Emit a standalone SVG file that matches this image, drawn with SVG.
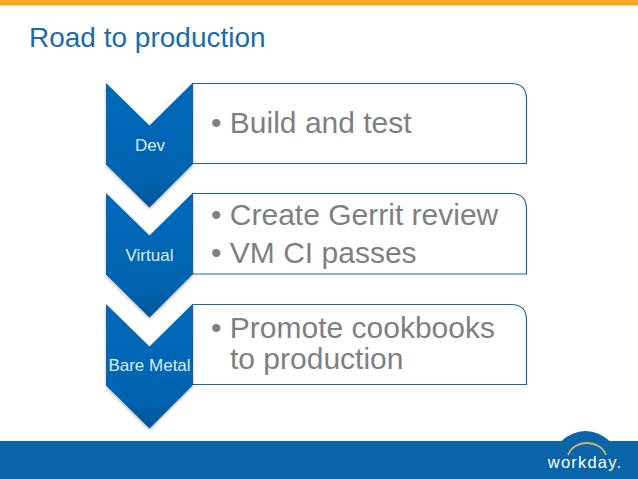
<svg xmlns="http://www.w3.org/2000/svg" width="638" height="479" viewBox="0 0 638 479">
<style>
text{font-family:"Liberation Sans",Arial,sans-serif}
.t{font-size:17px;fill:#dcecf8;text-anchor:middle}
.b{font-size:30px;fill:#7f7f7f}
.box{fill:#fff;stroke:#1a679d;stroke-width:1.2}
</style>
<defs>
<linearGradient id="g" x1="0" y1="0" x2="0" y2="1"><stop offset="0" stop-color="#0668ba"/><stop offset=".75" stop-color="#0564b0"/><stop offset="1" stop-color="#065596"/></linearGradient>
<filter id="s" x="-20%" y="-10%" width="140%" height="125%"><feDropShadow dx="0" dy="1.5" stdDeviation="1.5" flood-color="#000" flood-opacity=".3"/></filter>
<path id="c" d="M106 83L149.500 125.500L192.500 83V164.500L149.500 207.500L106 164.500Z" fill="url(#g)" filter="url(#s)"/>
</defs>
<rect width="638" height="479" fill="#fff"/>
<rect width="638" height="5.500" fill="#f6a623"/>
<text x="29" y="47" font-size="28px" fill="#1a6ca8">Road to production</text>
<g id="dev">
<path class="box" d="M192.500 83.500H511Q526.500 83.500 526.500 99V163.500H192.500Z"/>
<use href="#c"/>
<text class="t" x="150" y="151">Dev</text>
<text class="b" x="211" y="133">• Build and test</text>
</g>
<g id="virtual">
<path class="box" d="M192.500 193.500H511Q526.500 193.500 526.500 209V274H192.500Z"/>
<use href="#c" y="110"/>
<text class="t" x="149.500" y="261">Virtual</text>
<text class="b" x="211" y="225">• Create Gerrit review</text>
<text class="b" x="211" y="263">• VM CI passes</text>
</g>
<g id="bare-metal">
<path class="box" d="M192.500 304.500H511Q526.500 304.500 526.500 320V384.500H192.500Z"/>
<use href="#c" y="221"/>
<text class="t" x="149.500" y="371">Bare Metal</text>
<text class="b" x="211" y="338">• Promote cookbooks</text>
<text class="b" x="230" y="369">to production</text>
</g>
<g id="connectors"></g>
<g id="footer">
<rect y="441" width="638" height="38" fill="#0a64a8"/>
<path d="M561.500 441A34 34 0 0 1 609.500 441Z" fill="#0a64a8"/>
<path d="M568 455C574 439 600 439 606 455" fill="none" stroke="#c8b26c" stroke-width="1.800"/>
<text x="585" y="468" font-size="16.500" letter-spacing="1.200" fill="#fff" text-anchor="middle">workday.</text>
</g>
</svg>
